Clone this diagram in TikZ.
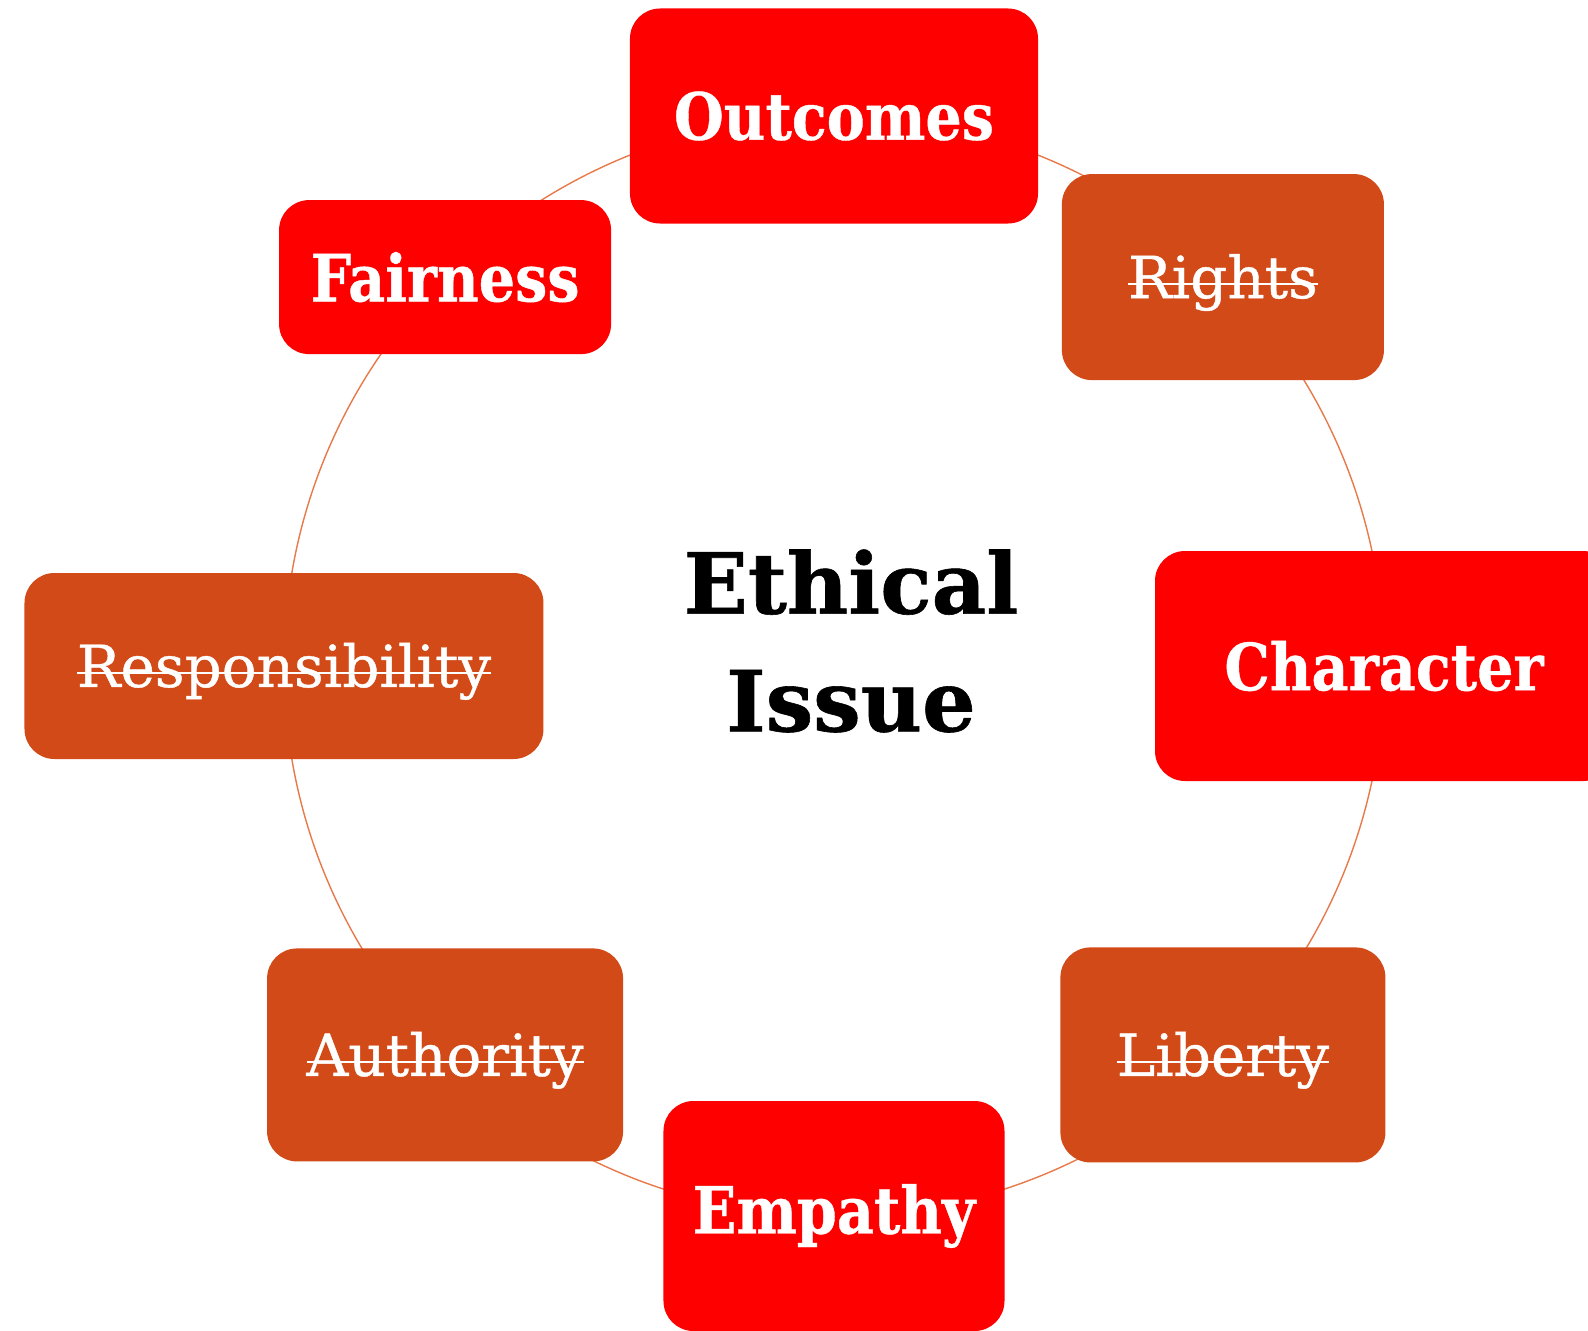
\documentclass[tikz,border=0pt]{standalone}
\usepackage{fontspec}
\usepackage{xcolor}
\usepackage{tikz}
\usetikzlibrary{positioning}
\newfontfamily\slab[FakeStretch=0.88, FakeBold=0.6]{DejaVu Serif}
\newfontfamily\slabplain[FakeBold=0.7]{DejaVu Serif}
\definecolor{hotred}{HTML}{FF0000}
\definecolor{rust}{HTML}{D24A17}
\definecolor{ringline}{HTML}{E8794A}
\newcommand{\struck}[1]{\setbox0\hbox{#1}\rlap{\raisebox{0.22em}{\rule{\wd0}{1.2pt}}}\box0}
\tikzstyle{hot} = [rectangle, rounded corners=0.6cm, fill=hotred, text=white, font=\slab\bfseries\fontsize{37}{40}\selectfont]
\tikzstyle{dull} = [rectangle, rounded corners=0.6cm, fill=rust, text=white, text depth=0.12em, font=\slabplain\fontsize{33}{36}\selectfont]
\tikzstyle{ring} = [draw=ringline, line width=0.8pt]

\begin{document}
\begin{tikzpicture}
    \useasboundingbox (-16.68,-13.28) rectangle (15.08,13.32);
    \coordinate (hub) at (0,0);
    \draw[ring] (hub) circle (11cm);

    \node[hot, minimum width=8.16cm, minimum height=4.3cm] (outcomes) at (90:11) {Outcomes};
    \node[dull, minimum width=6.44cm, minimum height=4.12cm] (rights) at (45:11) {\struck{Rights}};
    \node[hot, minimum width=9.16cm, minimum height=4.6cm] (character) at (0:11) {Character};
    \node[dull, minimum width=6.5cm, minimum height=4.3cm] (liberty) at (-45:11) {\struck{Liberty}};
    \node[hot, minimum width=6.82cm, minimum height=4.6cm] (empathy) at (-90:11) {Empathy};
    \node[dull, minimum width=7.12cm, minimum height=4.26cm] (authority) at (-135:11) {\struck{Authority}};
    \node[dull, minimum width=10.38cm, minimum height=3.72cm] (respons) at (180:11) {\struck{Responsibility}};
    \node[hot, minimum width=6.64cm, minimum height=3.08cm] (fairness) at (135:11) {Fairness};

    \node[align=center, font=\slabplain\bfseries\fontsize{48}{67}\selectfont] (issue) at (0.34,0.5) {Ethical\\Issue};
\end{tikzpicture}
\end{document}
